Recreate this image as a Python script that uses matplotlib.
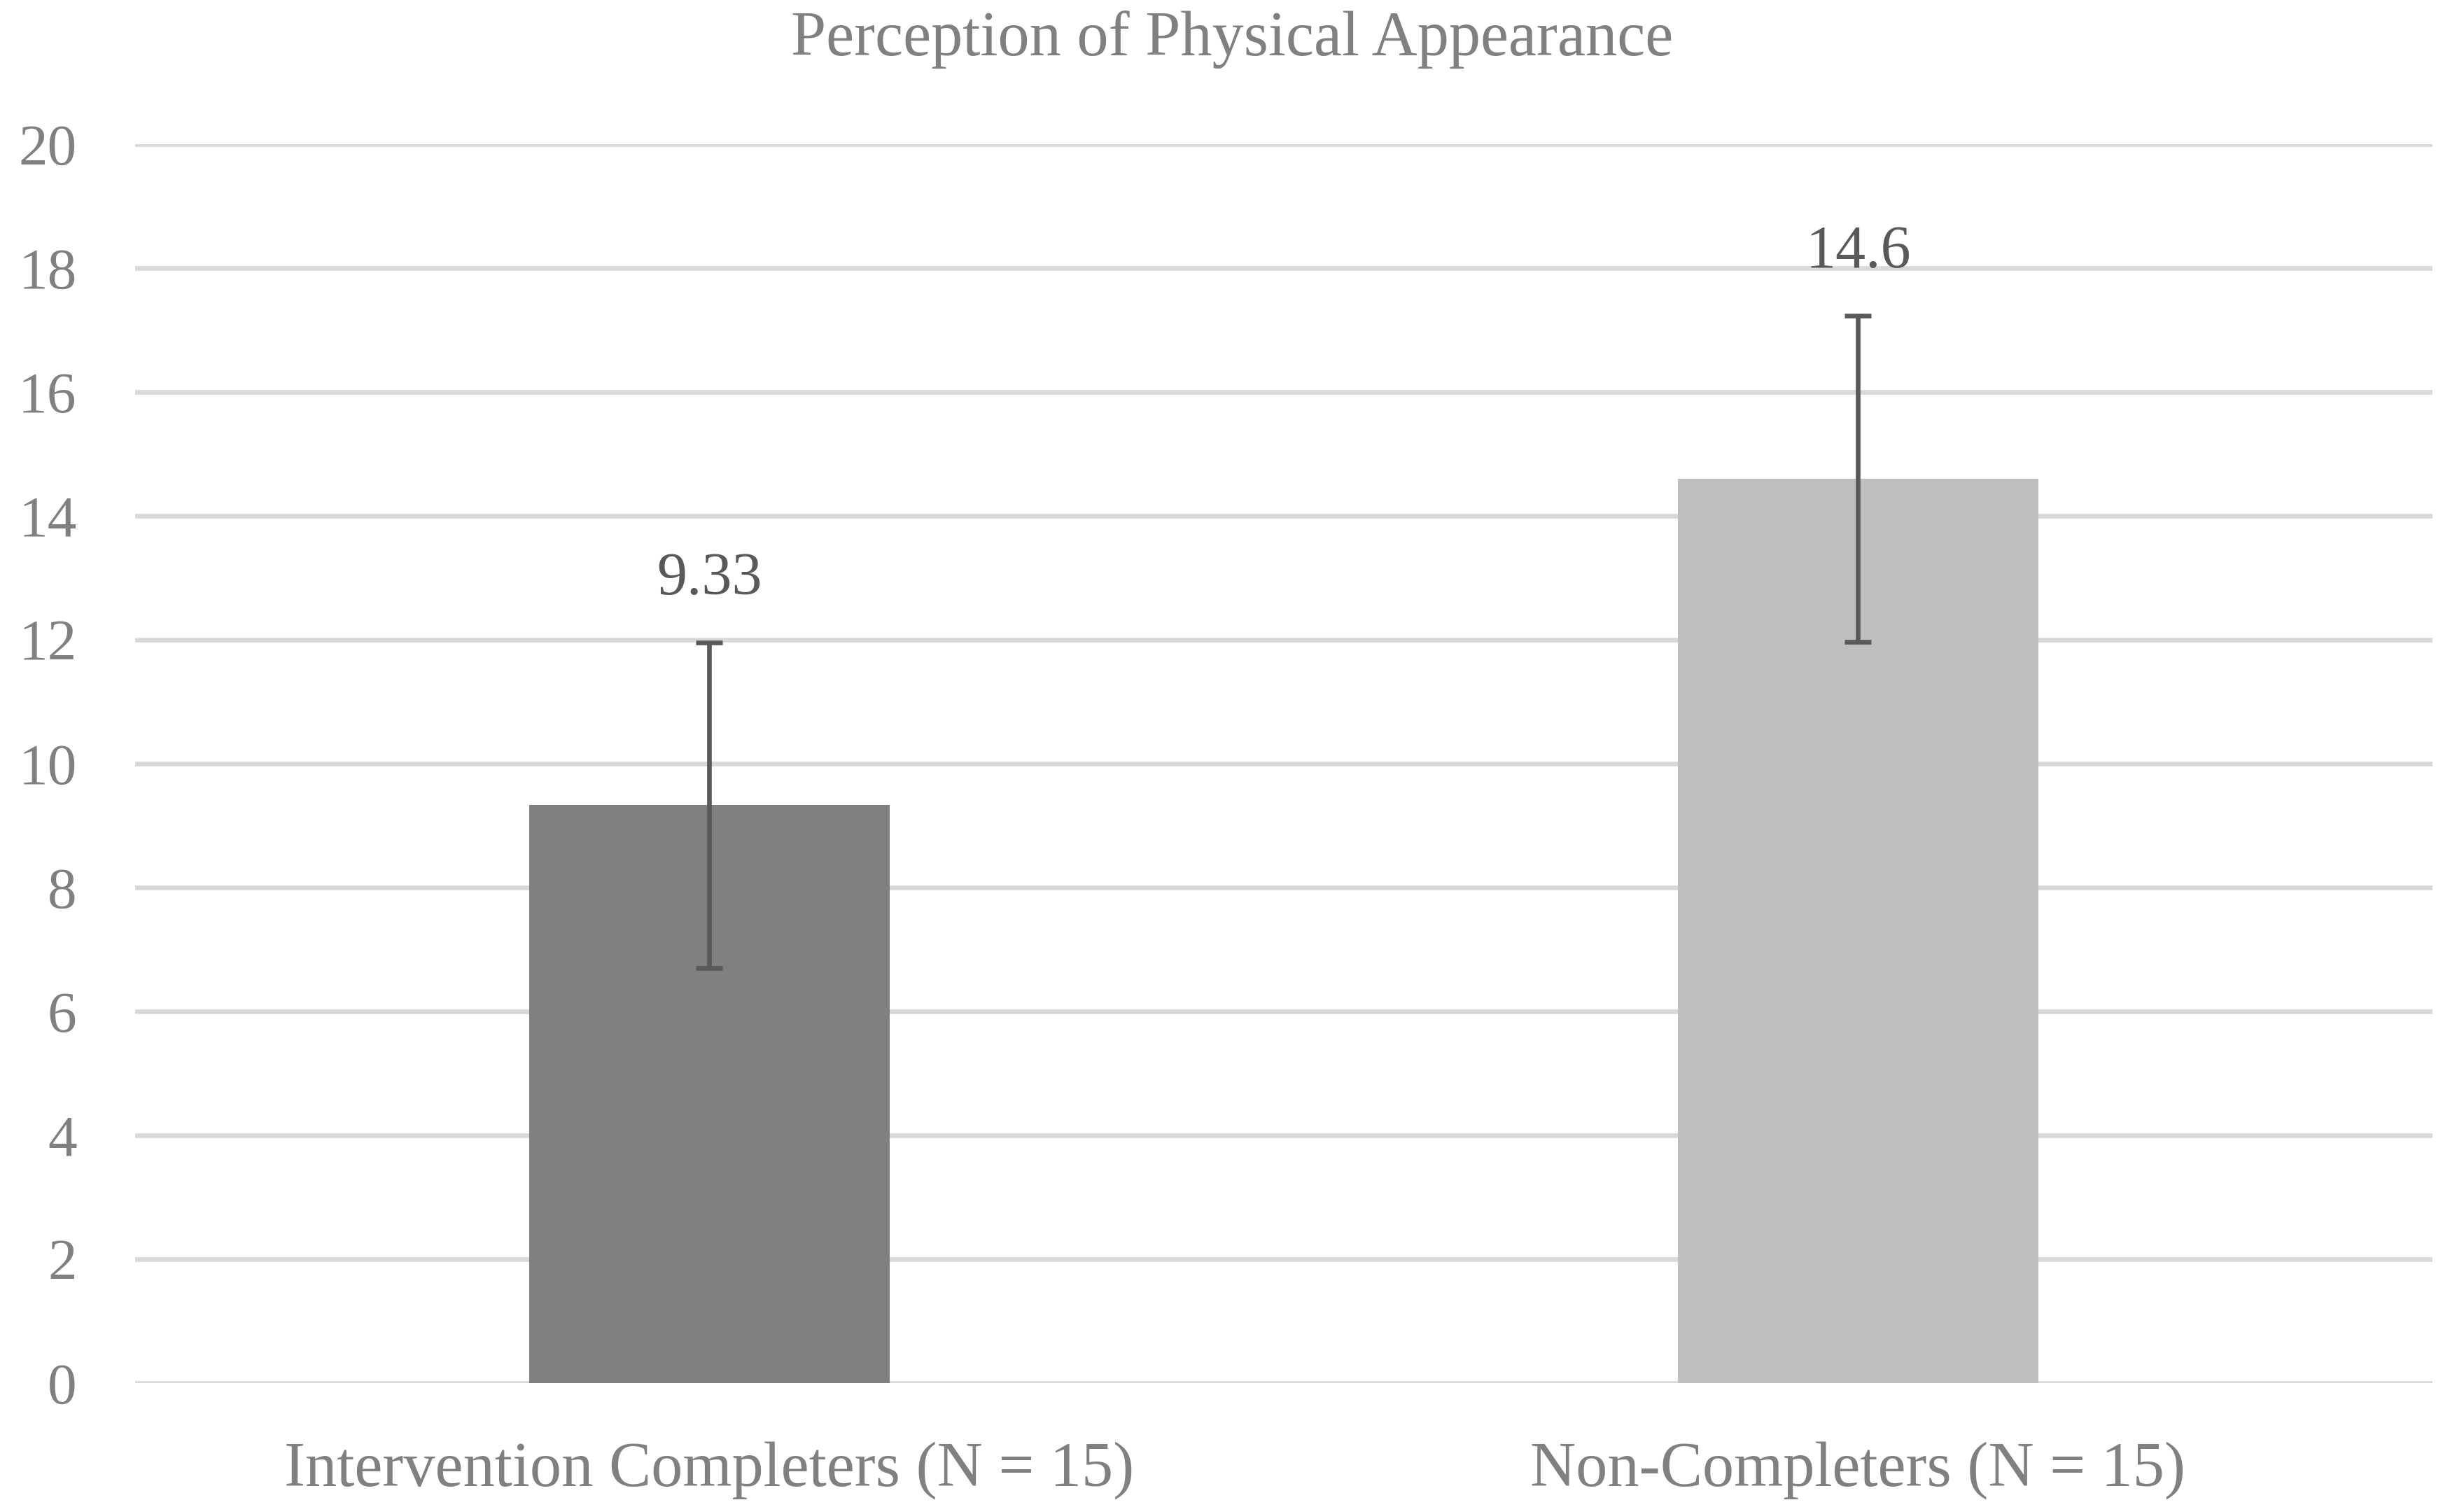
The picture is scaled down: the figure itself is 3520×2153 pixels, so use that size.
import matplotlib
matplotlib.use("Agg")
import matplotlib.pyplot as plt

categories = ["Intervention Completers (N = 15)", "Non-Completers (N = 15)"]
means = [9.33, 14.6]
errors = [2.63, 2.63]
value_labels = ["9.33", "14.6"]
bar_colors = ["#808080", "#bfbfbf"]
yticks = [0, 2, 4, 6, 8, 10, 12, 14, 16, 18, 20]

plt.rcParams['font.family'] = ['Liberation Serif', 'DejaVu Serif']
text_col = "#808080"

fig = plt.figure(figsize=(17.6, 10.765), dpi=200)
ax = fig.add_axes([0.0548, 0.0824, 0.9324, 0.8217])

x = list(range(len(categories)))
ax.bar(x, means, width=0.314, color=bar_colors, zorder=2)
ax.errorbar(x, means, yerr=errors, fmt='none', ecolor="#595959",
            elinewidth=2.4, capsize=7, capthick=2.4, zorder=3)

# labels sit above the error bar tops
for i in x:
    ax.annotate(value_labels[i], (i, means[i] + errors[i]), xytext=(0, 18),
                textcoords='offset points', ha='center', va='bottom',
                fontsize=31, color="#595959")

ax.set_xlim(-0.5, 1.5)
ax.set_ylim(0, 20)
ax.set_yticks(yticks)
ax.set_xticks(x)
ax.set_xticklabels(categories)
ax.yaxis.grid(True, color="#d9d9d9", linewidth=2.4, zorder=0)
ax.set_axisbelow(True)
for s in ax.spines.values():
    s.set_visible(False)
ax.tick_params(axis='y', length=0, pad=30, labelsize=30, labelcolor=text_col)
ax.tick_params(axis='x', length=0, pad=30, labelsize=32.5, labelcolor=text_col)

fig.suptitle("Perception of Physical Appearance", y=0.993, va='top',
             fontsize=32.5, color=text_col)

fig.savefig("out.png", dpi=200, facecolor='white')
